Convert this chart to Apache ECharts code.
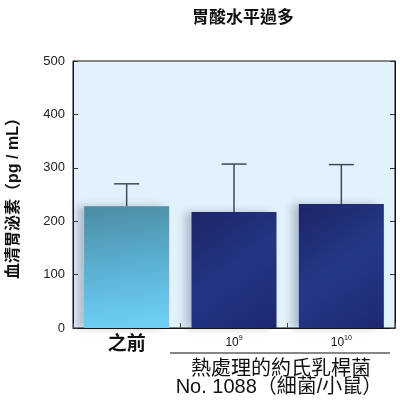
<!DOCTYPE html>
<html>
<head>
<meta charset="utf-8">
<script src="https://cdn.jsdelivr.net/npm/echarts@6/dist/echarts.min.js"></script>
<style>html,body{margin:0;padding:0;background:#fff;}#c{width:400px;height:400px;}</style>
</head>
<body>
<div id="c"></div>
<script>
var categories = ['之前', '10^9', '10^10'];
var meanValues = [228, 217, 232];
var upperValues = [270, 307, 306];
var yTicks = [0, 100, 200, 300, 400, 500];

var FONT = '"Liberation Sans", "Noto Sans CJK TC", sans-serif';
var chart = echarts.init(document.getElementById('c'));

var barColors = [
  new echarts.graphic.LinearGradient(0, 0, 0.2, 1, [
    {offset: 0, color: '#4b8ca2'}, {offset: 0.5, color: '#5aaed0'}, {offset: 1, color: '#6dcef3'}]),
  new echarts.graphic.LinearGradient(0, 0, 1, 1, [
    {offset: 0, color: '#1d2566'}, {offset: 0.5, color: '#243585'}, {offset: 1, color: '#1e2872'}]),
  new echarts.graphic.LinearGradient(0, 0, 1, 1, [
    {offset: 0, color: '#1d2566'}, {offset: 0.5, color: '#253888'}, {offset: 1, color: '#1e2872'}])
];

var option = {
  animation: false,
  title: {
    text: '胃酸水平過多', left: 238, top: 5, textAlign: 'center',
    textStyle: {fontFamily: FONT, fontSize: 17, fontWeight: 'bold', color: '#111'}
  },
  grid: {left: 73, right: 5, top: 61, bottom: 72, containLabel: false, outerBoundsMode: 'none',
    show: true, backgroundColor: '#e1f2fc', borderColor: '#111', borderWidth: 1},
  xAxis: {
    type: 'category', data: categories,
    axisLine: {show: true, lineStyle: {color: '#111', width: 1}},
    axisTick: {show: true, inside: true, length: 5, lineStyle: {color: '#444'}},
    axisLabel: {
      margin: 7,
      formatter: function (v) {
        var parts = v.split('^');
        if (parts.length === 1) return '{a|' + v + '}';
        return '{b|' + parts[0] + '}{s|' + parts[1] + '}';
      },
      rich: {
        a: {fontFamily: FONT, fontSize: 19, fontWeight: 'bold', color: '#111'},
        b: {fontFamily: FONT, fontSize: 12, color: '#111', lineHeight: 14, verticalAlign: 'bottom'},
        s: {fontFamily: FONT, fontSize: 7, color: '#111', lineHeight: 14, verticalAlign: 'top'}
      }
    }
  },
  yAxis: [{
    type: 'value', min: 0, max: 500, interval: 100,
    name: '血清胃泌素（pg / mL）', nameLocation: 'middle', nameGap: 51, nameRotate: 90,
    nameTextStyle: {fontFamily: FONT, fontSize: 16, fontWeight: 'bold', color: '#111'},
    axisLine: {show: true, lineStyle: {color: '#111'}},
    axisTick: {show: true, inside: true, length: 5, lineStyle: {color: '#333'}},
    splitLine: {show: false},
    axisLabel: {fontFamily: FONT, fontSize: 13, color: '#222', margin: 8,
      formatter: function (v) { return yTicks.indexOf(v) >= 0 ? String(v) : ''; }}
  }, {
    type: 'value', min: 0, max: 500, interval: 100, position: 'right',
    axisLine: {show: true, lineStyle: {color: '#111'}},
    axisTick: {show: true, inside: true, length: 5, lineStyle: {color: '#333'}},
    axisLabel: {show: false}, splitLine: {show: false}
  }],
  series: [{
    type: 'bar', barWidth: 85,
    data: meanValues.map(function (v, i) {
      return {value: v, itemStyle: {color: barColors[i], shadowColor: 'rgba(60,70,90,0.3)', shadowBlur: 8, shadowOffsetX: -7}};
    }),
    z: 2
  }, {
    type: 'custom', z: 3,
    data: meanValues.map(function (v, i) { return [i, v, upperValues[i]]; }),
    renderItem: function (params, api) {
      var p0 = api.coord([api.value(0), api.value(1)]);
      var p1 = api.coord([api.value(0), api.value(2)]);
      var hw = 12.5;
      var style = {stroke: '#3d4b5a', lineWidth: 1.5, fill: null};
      return {type: 'group', children: [
        {type: 'line', shape: {x1: p0[0], y1: p0[1], x2: p1[0], y2: p1[1]}, style: style},
        {type: 'line', shape: {x1: p1[0] - hw, y1: p1[1], x2: p1[0] + hw, y2: p1[1]}, style: style}
      ]};
    }
  }],
  graphic: [
    {type: 'line', shape: {x1: 170, y1: 353, x2: 390, y2: 353}, style: {stroke: '#111', lineWidth: 1}},
    {type: 'text', x: 281, y: 367, style: {text: '熱處理的約氏乳桿菌', font: '20px "Noto Sans CJK TC", sans-serif', fill: '#111', align: 'center', verticalAlign: 'middle'}},
    {type: 'text', x: 279, y: 387, style: {text: 'No. 1088（細菌/小鼠）', font: '20px "Liberation Sans", "Noto Sans CJK TC", sans-serif', fill: '#111', align: 'center', verticalAlign: 'middle'}}
  ]
};
chart.setOption(option);
</script>
</body>
</html>
